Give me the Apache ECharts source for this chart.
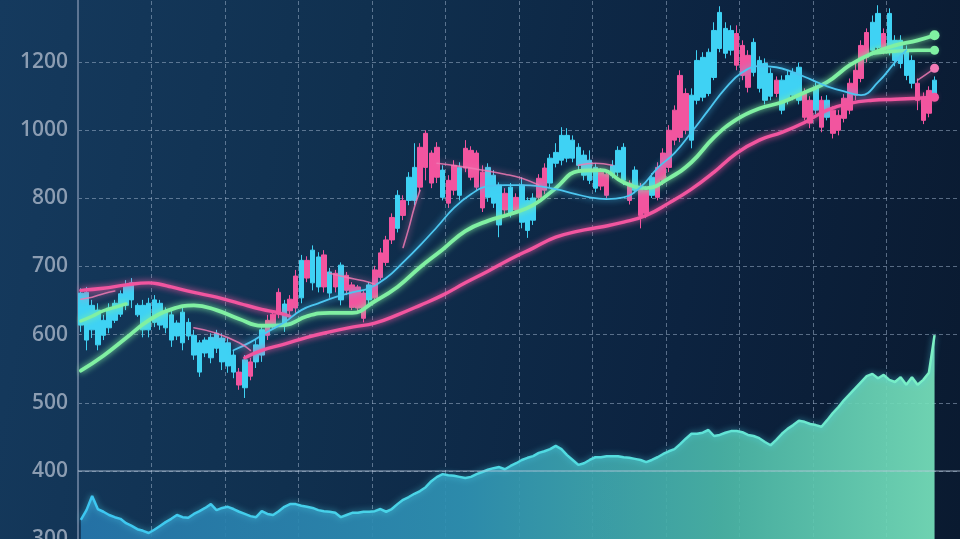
<!DOCTYPE html>
<html><head><meta charset="utf-8">
<script src="https://cdn.jsdelivr.net/npm/echarts@6/dist/echarts.min.js"></script>
<style>
html,body{margin:0;padding:0;width:960px;height:539px;overflow:hidden;
background:linear-gradient(100deg,#153a5e 0%,#10304f 35%,#0c2340 70%,#0a1a30 100%);}
#c{width:960px;height:539px;}
</style></head><body><div id="c"></div>
<script>
// Price axis tick labels (evenly spaced on screen)
const tickValues = [300,400,500,600,700,800,1000,1200,1400];
const tickLabels = ['300','400','500','600','700','800','1000','1200','1400'];
const categoryCount = 156;

// Candles: [open, close, low, high]
const ohlc = [
[661,614,604,668],[662,592,577,670],[643,607,595,651],[636,585,577,646],[621,599,592,629],
[639,610,602,646],[646,621,617,651],[660,630,626,665],[673,643,636,680],[676,651,639,683],
[643,629,626,646],[643,607,596,651],[646,607,596,654],[651,618,611,658],[646,614,607,651],
[633,610,602,640],[629,592,582,636],[617,598,592,621],[633,588,577,640],[618,598,592,624],
[599,570,563,607],[588,545,538,592],[592,573,567,596],[596,566,558,602],[602,580,573,607],
[595,560,548,602],[588,554,544,595],[570,545,536,577],[526,545,519,551],[563,522,507,570],
[539,560,533,566],[585,560,551,592],[607,570,560,611],[599,621,592,629],[613,630,607,636],
[630,662,624,668],[645,613,604,651],[635,652,629,658],[639,686,632,695],[709,654,646,717],
[683,709,677,715],[724,676,665,731],[714,670,662,721],[670,717,662,724],[692,661,654,698],
[670,690,662,695],[702,651,643,706],[665,687,658,692],[640,673,636,677],[639,670,633,673],
[624,661,618,665],[673,651,643,677],[654,695,648,701],[684,720,680,727],[706,739,701,745],
[739,772,733,778],[809,756,750,824],[775,797,768,809],[862,797,790,877],[891,797,790,962],
[833,950,818,962],[891,991,853,1000],[845,933,830,941],[862,950,845,965],[883,803,797,897],
[793,853,786,868],[824,897,809,912],[891,809,797,906],[889,947,877,971],[862,941,853,953],
[833,933,824,941],[786,877,780,897],[891,803,795,903],[868,793,786,883],[839,761,743,847],
[783,815,777,830],[833,778,772,845],[783,803,777,815],[839,765,756,862],[797,753,742,803],
[801,768,761,815],[803,859,797,871],[824,889,812,903],[918,845,833,930],[935,903,891,962],
[985,912,897,1009],[985,918,906,1006],[971,918,906,985],[950,897,883,962],[927,868,853,941],
[912,853,842,941],[891,830,818,903],[836,877,824,889],[809,871,801,883],[897,868,859,912],
[941,877,865,953],[950,853,839,962],[797,845,791,853],[883,824,815,894],[775,833,756,845],
[778,824,771,836],[862,809,801,874],[803,891,797,906],[853,933,839,947],[891,1000,877,1015],
[971,1059,956,1073],[979,1161,965,1176],[1000,1108,988,1123],[1103,971,947,1123],[1205,1088,1076,1235],
[1214,1097,1085,1229],[1229,1108,1100,1240],[1293,1155,1147,1317],[1346,1240,1229,1364],[1299,1226,1211,1317],
[1293,1235,1220,1308],[1191,1284,1176,1308],[1161,1249,1147,1264],[1126,1220,1111,1235],[1258,1170,1158,1270],
[1205,1123,1111,1217],[1196,1088,1076,1211],[1167,1100,1088,1182],[1108,1147,1097,1158],[1147,1059,1047,1161],
[1161,1088,1076,1176],[1170,1103,1088,1182],[1185,1088,1076,1199],[1038,1108,1029,1123],[1021,1088,1006,1100],
[1126,1059,1047,1141],[1009,1088,994,1100],[1088,1038,1029,1103],[991,1059,976,1070],[1000,1044,985,1059],
[1035,1094,1023,1106],[1059,1138,1047,1152],[1103,1176,1088,1199],[1152,1249,1141,1264],[1214,1287,1199,1299],
[1317,1235,1220,1337],[1343,1243,1229,1367],[1235,1284,1223,1299],[1343,1235,1220,1358],[1264,1205,1188,1279],
[1264,1196,1182,1279],[1235,1161,1147,1249],[1205,1138,1123,1220],[1088,1138,1059,1152],[1029,1097,1018,1111],
[1050,1117,1038,1129],[1147,1097,1088,1158]
];

// Volume (area at the bottom)
const volume = [
35,53,79,55,50,44,40,37,29,24,
18,15,11,17,24,31,37,44,40,39,
46,51,57,64,53,57,59,55,50,46,
42,40,51,46,44,51,59,64,64,61,
59,57,53,51,50,48,40,44,48,48,
50,50,51,55,50,55,64,72,77,83,
88,95,106,114,119,117,116,114,112,114,
119,123,127,130,132,128,134,139,145,149,
152,158,161,165,171,165,154,145,136,139,
145,150,150,152,152,152,150,149,147,145,
141,145,150,156,161,165,174,184,193,193,
195,200,189,191,195,198,198,196,191,189,
185,178,172,182,193,202,209,217,215,211,
209,206,218,231,242,255,266,277,288,299,
303,295,301,292,288,297,283,297,283,292,
305,374
];

// Moving-average lines: [candle index, value]
const greenMain = [[0,547],[4,569],[8,595],[12,621],[16,637],[20,643],[24,636],[28,623],[32,613],[36,614],
[40,627],[44,632],[48,632],[52,649],[56,670],[60,699],[64,725],[68,752],[72,767],[76,777],[80,790],
[84,830],[88,880],[92,883],[96,847],[100,830],[104,859],[108,906],[112,979],[116,1032],[120,1064],
[124,1082],[128,1111],[132,1141],[136,1191],[140,1226],[144,1249],[148,1264],[151,1279]];
const greenStart = [[0,620],[2,627],[4,635],[6,640],[8,645]];
const greenEnd = [[140,1226],[144,1232],[148,1235],[151,1235]];
const pinkEarly = [[0,665],[4,668],[8,673],[12,676],[14,674],[16,670],[20,662],[24,655],[28,646],[32,637],[35,632],[37,627]];
const pinkLong = [[29,566],[32,577],[36,586],[40,596],[44,604],[48,611],[52,617],[56,629],[60,643],[64,658],
[68,676],[72,693],[76,711],[80,727],[84,743],[88,752],[92,758],[96,765],[100,775],[104,793],[108,827],
[112,877],[116,933],[120,971],[124,994],[128,1023],[132,1059],[136,1079],[140,1088],[144,1091],[148,1094],[151,1097]];
const cyanThin = [[27,577],[30,589],[33,604],[36,618],[39,636],[42,646],[45,655],[48,662],[51,668],[54,683],
[57,706],[60,731],[63,758],[66,786],[69,812],[72,836],[75,839],[78,839],[81,836],[84,827],[87,815],[90,803],
[93,799],[96,803],[99,833],[102,889],[105,933],[108,994],[111,1059],[114,1123],[117,1170],[120,1188],[123,1185],
[126,1170],[129,1150],[132,1129],[135,1114],[138,1103],[141,1141],[144,1199],[146,1235]];
const pinkThinSegments = [
  [[0,652],[2,655],[4,660],[6,664]],
  [[20,610],[24,602],[28,588],[30,577]],
  [[44,690],[47,684],[50,679],[52,674]],
  [[57,728],[58,756],[59,787],[60,824]],
  [[63,903],[67,894],[71,883],[75,871],[78,859],[81,839]],
  [[88,897],[91,903],[94,897]],
  [[148,1147],[150,1170],[151,1182]]
];

function toAxis(v){
  for(let k=0;k<tickValues.length-1;k++){
    if(v<=tickValues[k+1]||k===tickValues.length-2) return k+(v-tickValues[k])/(tickValues[k+1]-tickValues[k]);
  }
}
const N = ohlc.length;
const categories = Array.from({length:categoryCount},(_,i)=>String(i+1));

function lineSeries(points,color,width,dot,opacity){
  const data = new Array(N).fill(null);
  points.forEach(([i,v])=>{data[i]=toAxis(v);});
  if(dot){
    const li = points[points.length-1][0];
    data[li] = {value:data[li],symbol:'circle',symbolSize:dot,itemStyle:{color:color}};
  }
  return {type:'line',data,smooth:0.45,connectNulls:true,symbol:'none',showAllSymbol:true,silent:true,
    xAxisIndex:0,yAxisIndex:0,z:5,
    lineStyle:{color,width,opacity:opacity||1,shadowBlur:6,shadowColor:color,cap:'round'}};
}

const PINK='#f2559f', CYAN='#3fd2f4', GREEN='#80f0a2';
const series = [
  {type:'line',data:volume,yAxisIndex:1,symbol:'none',silent:true,z:1,
   lineStyle:{width:2.5,color:{type:'linear',x:0,y:0,x2:1,y2:0,colorStops:[{offset:0,color:'#3cc6f2'},{offset:0.6,color:'#52dce0'},{offset:1,color:'#7cf0c4'}]},shadowBlur:6,shadowColor:'rgba(80,220,240,0.6)'},
   areaStyle:{opacity:0.92,color:{type:'linear',x:0,y:0,x2:1,y2:0,colorStops:[{offset:0,color:'#2676ab'},{offset:0.45,color:'#2f93b4'},{offset:0.75,color:'#4cb8a8'},{offset:1,color:'#78e2bc'}]}}},
  {type:'candlestick',data:ohlc.map(d=>d.map(toAxis)),barWidth:5,z:3,silent:true,
   itemStyle:{color:PINK,color0:CYAN,borderColor:PINK,borderColor0:CYAN,borderWidth:1},
   markLine:{silent:true,symbol:'none',label:{show:false},animation:false,
     lineStyle:{type:'solid',color:'rgba(185,200,218,0.55)',width:1.5},
     data:[{yAxis:toAxis(400)}]}},
  lineSeries(pinkEarly,PINK,3.4,0),
  lineSeries(pinkLong,PINK,3.4,9),
  lineSeries(greenStart,GREEN,3.4,0),
  lineSeries(greenMain,GREEN,3.8,10),
  lineSeries(greenEnd,GREEN,3.4,9),
  lineSeries(cyanThin,'#4cc6f0',1.8,0)
];
pinkThinSegments.forEach((seg,k)=>{
  series.push(lineSeries(seg,'#f07ab4',1.6,k===pinkThinSegments.length-1?9:0,0.85));
});

const chart = echarts.init(document.getElementById('c'),null,{renderer:'canvas'});
chart.setOption({
  animation:false,
  backgroundColor:'transparent',
  grid:{left:78,right:0,top:-6,bottom:0,containLabel:false,outerBoundsMode:'none'},
  xAxis:{type:'category',data:categories,boundaryGap:true,
    axisLine:{show:false},axisTick:{show:false},axisLabel:{show:false},
    splitLine:{show:true,interval:12,lineStyle:{color:'rgba(165,185,210,0.5)',type:[4,3],width:1}}},
  yAxis:[
    {type:'value',min:0,max:8,interval:1,
     axisLine:{show:true,lineStyle:{color:'#5d7593',width:2}},axisTick:{show:false},
     axisLabel:{margin:10,color:'#8c9db2',fontSize:21,fontWeight:600,fontFamily:'Open Sans',
       formatter:v=>tickLabels[Math.round(v)]},
     splitLine:{show:true,lineStyle:{color:'rgba(165,185,210,0.5)',type:[4,3],width:1}}},
    {type:'value',min:0,max:1000,show:false,splitLine:{show:false}}
  ],
  series
});
</script></body></html>
